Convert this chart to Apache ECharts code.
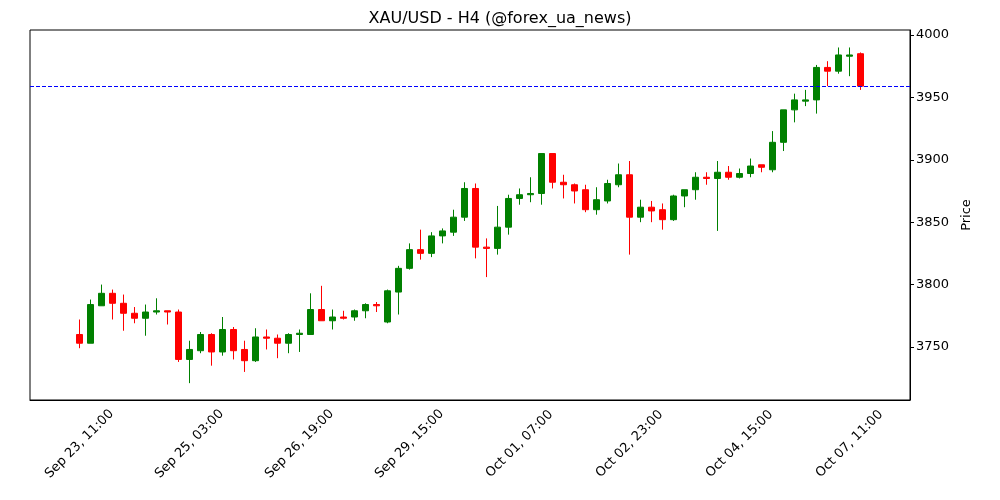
<!DOCTYPE html>
<html><head><meta charset="utf-8">
<script src="https://cdn.jsdelivr.net/npm/echarts@6/dist/echarts.min.js"></script>
<style>html,body{margin:0;padding:0;background:#fff}#c{width:1000px;height:500px}</style>
</head><body><div id="c"></div>
<script>
// OHLC per H4 candle: [open, close, low, high]
const ohlc = [
[3760,3753,3749,3772],[3753,3784,3753,3788],[3783,3793,3783,3800],[3793,3785,3772,3796],
[3785,3777,3763,3792],[3777,3773,3769,3782],[3773,3778,3759,3784],[3778,3779,3776,3789],
[3779,3778,3768,3779],[3778,3740,3738,3780],[3740,3748,3721,3755],[3747,3760,3745,3762],
[3760,3746,3735,3761],[3746,3764,3743,3774],[3764,3747,3740,3766],[3748,3739,3730,3755],
[3739,3758,3738,3765],[3758,3757,3748,3764],[3757,3753,3741,3760],[3753,3760,3745,3761],
[3760,3761,3746,3764],[3760,3780,3760,3793],[3780,3771,3771,3799],[3771,3774,3764,3780],
[3774,3773,3772,3779],[3774,3779,3771,3780],[3779,3784,3773,3785],[3784,3783,3778,3786],
[3770,3795,3769,3796],[3794,3813,3776,3815],[3813,3828,3812,3833],[3828,3825,3820,3844],
[3825,3839,3822,3842],[3839,3843,3833,3845],[3842,3854,3839,3860],[3854,3877,3851,3882],
[3877,3830,3821,3881],[3830,3829,3806,3837],[3829,3846,3824,3863],[3846,3869,3840,3872],
[3869,3872,3864,3877],[3872,3873,3866,3886],[3873,3905,3864,3905],[3905,3882,3877,3905],
[3882,3880,3869,3888],[3880,3875,3865,3881],[3876,3860,3858,3880],[3860,3868,3856,3878],
[3867,3881,3865,3884],[3880,3888,3878,3897],[3888,3854,3824,3899],[3854,3862,3850,3868],
[3862,3859,3850,3867],[3860,3852,3844,3865],[3852,3871,3851,3872],[3871,3876,3862,3876],
[3876,3886,3868,3890],[3886,3885,3880,3890],[3885,3890,3843,3899],[3890,3886,3884,3895],
[3886,3889,3885,3893],[3889,3895,3886,3901],[3896,3894,3890,3896],[3892,3914,3890,3923],
[3914,3940,3907,3940],[3940,3948,3930,3953],[3947,3948,3943,3956],[3948,3974,3937,3976],
[3974,3971,3959,3979],[3971,3984,3969,3990],[3983,3984,3967,3990],[3985,3959,3956,3986]
];
const tickLabels = ['Sep 23, 11:00','Sep 25, 03:00','Sep 26, 19:00','Sep 29, 15:00','Oct 01, 07:00','Oct 02, 23:00','Oct 04, 15:00','Oct 07, 11:00'];
const priceTicks = [3750,3800,3850,3900,3950,4000];
const lastPrice = 3959;
const PAD = 4;
const cats = [], data = [];
for (let i = 0; i < PAD; i++) { cats.push('p' + i); data.push('-'); }
ohlc.forEach((d, i) => { cats.push(i % 10 === 0 ? tickLabels[i / 10] : 'c' + i); data.push(d); });
for (let i = 0; i < PAD; i++) { cats.push('q' + i); data.push('-'); }
const isTick = (idx) => idx >= PAD && (idx - PAD) < ohlc.length && (idx - PAD) % 10 === 0;
const font = 'DejaVu Sans';
const chart = echarts.init(document.getElementById('c'));
chart.setOption({
  animation: false,
  title: { text: 'XAU/USD - H4 (@forex_ua_news)', left: 'center', top: 6,
    textStyle: { fontFamily: font, fontSize: 16, fontWeight: 'normal', color: '#000' } },
  grid: { left: 30, right: 90, top: 30, bottom: 100, show: true, borderColor: '#000', borderWidth: 1 },
  xAxis: { type: 'category', data: cats, boundaryGap: true,
    axisLine: { lineStyle: { color: '#000' } },
    axisTick: { interval: (i) => isTick(i), alignWithLabel: true, length: 4, lineStyle: { color: '#000' } },
    axisLabel: { interval: (i) => isTick(i), rotate: 45, align: 'center', verticalAlign: 'middle',
      fontFamily: font, fontSize: 13, color: '#000', margin: 44 },
    splitLine: { show: false } },
  yAxis: { type: 'value', position: 'right', min: 3707.5, max: 4004, scale: true,
    name: 'Price', nameLocation: 'middle', nameGap: 50, nameRotate: 90,
    nameTextStyle: { fontFamily: font, fontSize: 13, color: '#000' },
    axisLine: { show: true, lineStyle: { color: '#000' } },
    axisTick: { show: true, length: 4, customValues: priceTicks, lineStyle: { color: '#000' } },
    axisLabel: { customValues: priceTicks, formatter: (v) => String(v), fontFamily: font, fontSize: 13, color: '#000', margin: 6 },
    splitLine: { show: false } },
  series: [{
    type: 'candlestick', data: data, barWidth: 7,
    itemStyle: { color: '#008000', color0: '#ff0000', borderColor: '#008000', borderColor0: '#ff0000', borderWidth: 1 },
    markLine: { symbol: 'none', silent: true, label: { show: false },
      lineStyle: { color: '#0000ff', type: [4, 2], width: 1 },
      data: [{ yAxis: lastPrice }] }
  }]
});
</script></body></html>
